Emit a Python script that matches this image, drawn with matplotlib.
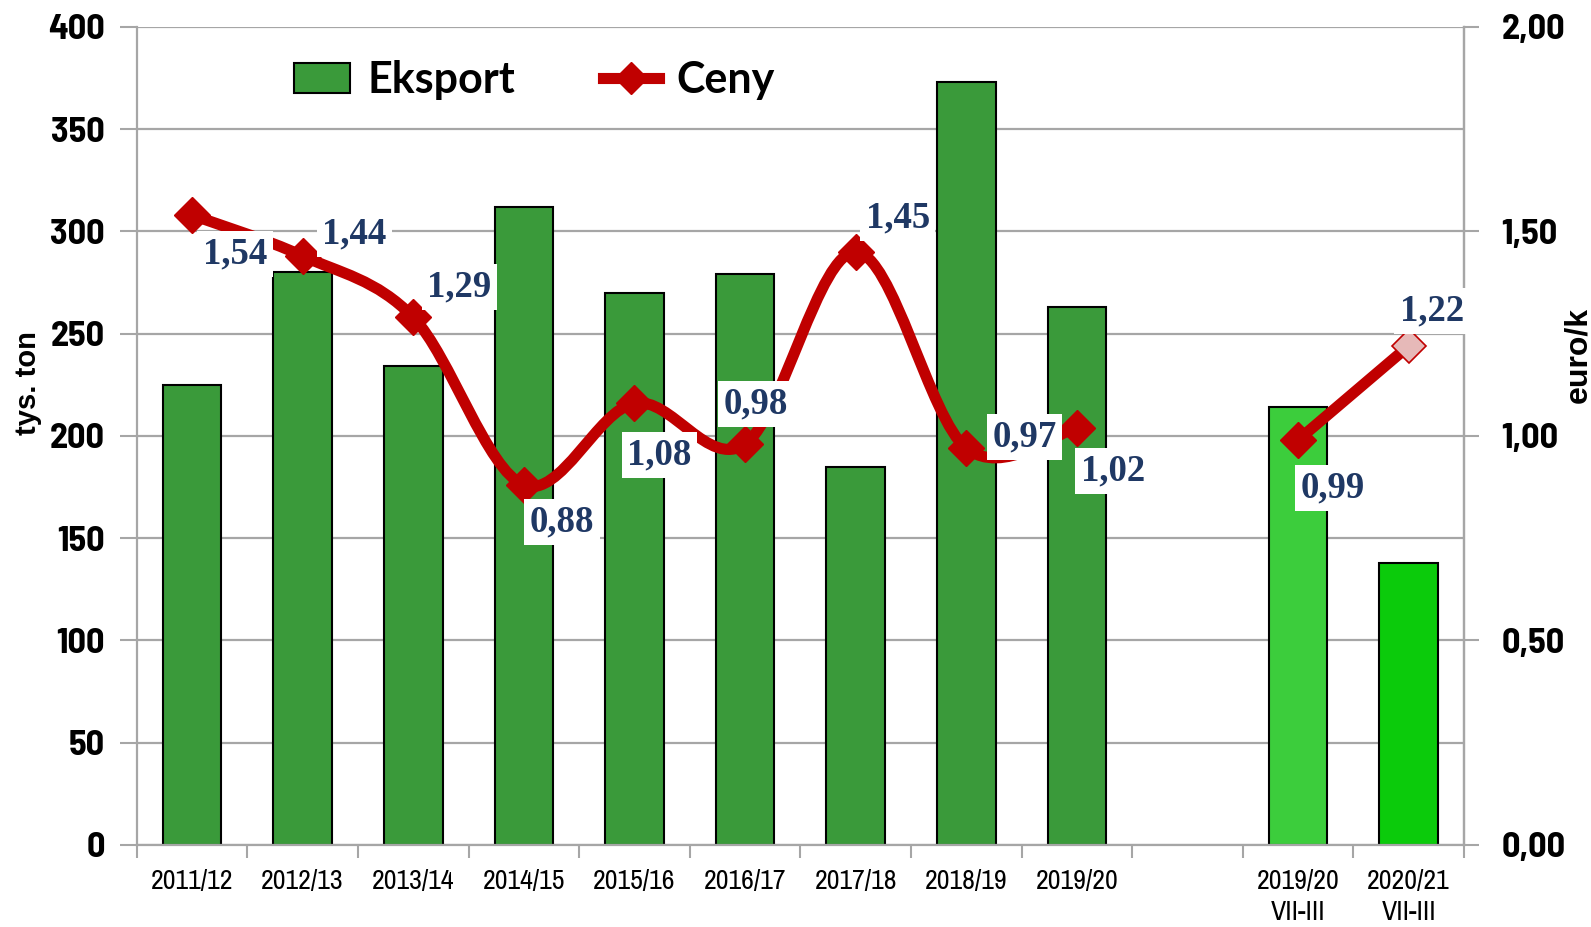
import numpy as np
import matplotlib.pyplot as plt
from matplotlib.path import Path
from matplotlib.patches import PathPatch, Patch
from matplotlib.lines import Line2D

# dane
season_labels = ['2011/12', '2012/13', '2013/14', '2014/15', '2015/16',
                 '2016/17', '2017/18', '2018/19', '2019/20']
export_season = [225, 280, 234, 312, 270, 279, 185, 373, 263]
price_season = [1.54, 1.44, 1.29, 0.88, 1.08, 0.98, 1.45, 0.97, 1.02]

period_labels = ['2019/20\nVII-III', '2020/21\nVII-III']
export_period = [214, 138]
price_period = [0.99, 1.22]

RED = '#C00000'
NAVY = '#1F3864'
GRID = '#A6A6A6'
NARROW = ['Archivo Narrow', 'Liberation Sans', 'DejaVu Sans']
NARROW_B = ['Barlow Semi Condensed', 'Liberation Sans', 'DejaVu Sans']

fig = plt.figure(figsize=(15.91, 9.27), dpi=100)
ax = fig.add_axes([0.0859, 0.0885, 0.8343, 0.8825])
ax2 = ax.twinx()

xs = np.arange(len(season_labels))
xp = np.array([10, 11])

ax.bar(xs, export_season, width=0.53, color='#3A9A3A', edgecolor='black', lw=1.5, zorder=2)
ax.bar(xp, export_period, width=0.53, color=['#3CCD3C', '#0BCB0B'],
       edgecolor='black', lw=1.5, zorder=2)

ax.set_xlim(-0.5, 11.5)
ax.set_ylim(0, 400)
ax.set_yticks(np.arange(0, 401, 50))
ax.yaxis.grid(True, color=GRID, lw=1.6)
ax.set_axisbelow(True)

ax.set_xticks(np.arange(-0.5, 12, 1))
ax.set_xticklabels([])
ax.set_xticks(list(xs) + list(xp), minor=True)
ax.set_xticklabels(season_labels + period_labels, minor=True, family=NARROW, fontsize=20,
                   linespacing=1.3, va='top')
ax.tick_params(axis='x', which='major', length=9, width=1.5, color=GRID)
ax.tick_params(axis='x', which='minor', length=0, pad=17)
ax.tick_params(axis='y', length=12, width=1.5, color=GRID, pad=11)
for t in ax.get_yticklabels():
    t.set_family(NARROW_B)
    t.set_fontweight('bold')
    t.set_fontsize(26)

for s in ['top']:
    ax.spines[s].set_visible(False)
    ax2.spines[s].set_visible(False)
for s in ['left', 'bottom', 'right']:
    ax.spines[s].set_color(GRID)
    ax.spines[s].set_linewidth(1.6)
ax2.spines['right'].set_color(GRID)
ax2.spines['right'].set_linewidth(1.6)
ax2.spines['left'].set_visible(False)
ax2.spines['bottom'].set_visible(False)

ax2.set_ylim(0, 2)
ax2.set_yticks(np.arange(0, 2.01, 0.5))
ax2.set_yticklabels([f'{v:.2f}'.replace('.', ',') for v in np.arange(0, 2.01, 0.5)],
                    family=NARROW_B, fontweight='bold', fontsize=26)
ax2.tick_params(axis='y', length=11, width=1.5, color=GRID, pad=16)

# wygładzona linia cen (Catmull-Rom -> Bezier)
pts = np.column_stack([xs, price_season]).astype(float)
ext = np.vstack([pts[0], pts, pts[-1]])
verts = [tuple(pts[0])]
codes = [Path.MOVETO]
for i in range(len(pts) - 1):
    p0, p1, p2, p3 = ext[i], ext[i + 1], ext[i + 2], ext[i + 3]
    c1 = p1 + (p2 - p0) / 6
    c2 = p2 - (p3 - p1) / 6
    verts += [tuple(c1), tuple(c2), tuple(p2)]
    codes += [Path.CURVE4] * 3
ax2.add_patch(PathPatch(Path(verts, codes), fill=False, ec=RED, lw=8,
                        capstyle='round', joinstyle='round', zorder=3))
ax2.plot(xs, price_season, ls='none', marker='D', ms=18, color=RED, zorder=4)
ax2.plot(xp, price_period, color=RED, lw=8, zorder=3)
ax2.plot(xp[:1], price_period[:1], ls='none', marker='D', ms=18, color=RED, zorder=4)
ax2.plot(xp[1:], price_period[1:], ls='none', marker='D', ms=17, mfc='#E6B9B8',
         mec=RED, mew=1.2, zorder=4)

# etykiety
offsets = [(43, -39), (52, 22), (46, 30), (38, -37), (25, -52), (11, 40),
           (42, 34), (58, 11), (36, -43), (35, -48), (23, 35)]
all_x = list(xs) + list(xp)
all_p = price_season + price_period
for x, p, (dx, dy) in zip(all_x, all_p, offsets):
    ax2.annotate(f'{p:.2f}'.replace('.', ','), (x, p), xytext=(dx, dy),
                 textcoords='offset pixels', ha='center', va='center',
                 family='Liberation Serif', fontweight='bold', fontsize=26.5, color=NAVY,
                 bbox=dict(boxstyle='square,pad=0.15', fc='white', ec='none'), zorder=6)

ax.set_ylabel('tys. ton', fontweight='bold', fontsize=21, family='Liberation Sans')
ax.yaxis.set_label_coords(-0.0715, 0.565)
fig.text(0.992, 0.617, 'euro/k', rotation=90, ha='center', va='center',
         fontweight='bold', fontsize=23, family='Liberation Sans')

handles = [Patch(facecolor='#3A9A3A', edgecolor='black', lw=1.5),
           Line2D([], [], color=RED, lw=8, marker='D', ms=16)]
leg = fig.legend(handles, ['Eksport', 'Ceny'], loc='center left',
                 bbox_to_anchor=(294 / 1591, 1 - 80 / 927), ncol=2, frameon=False,
                 borderpad=0, borderaxespad=0, handlelength=1.3, handleheight=0.7,
                 handletextpad=0.4, columnspacing=2.05,
                 prop={'family': 'Lato', 'weight': 'bold', 'size': 31})

fig.savefig('out.png', dpi=100)
